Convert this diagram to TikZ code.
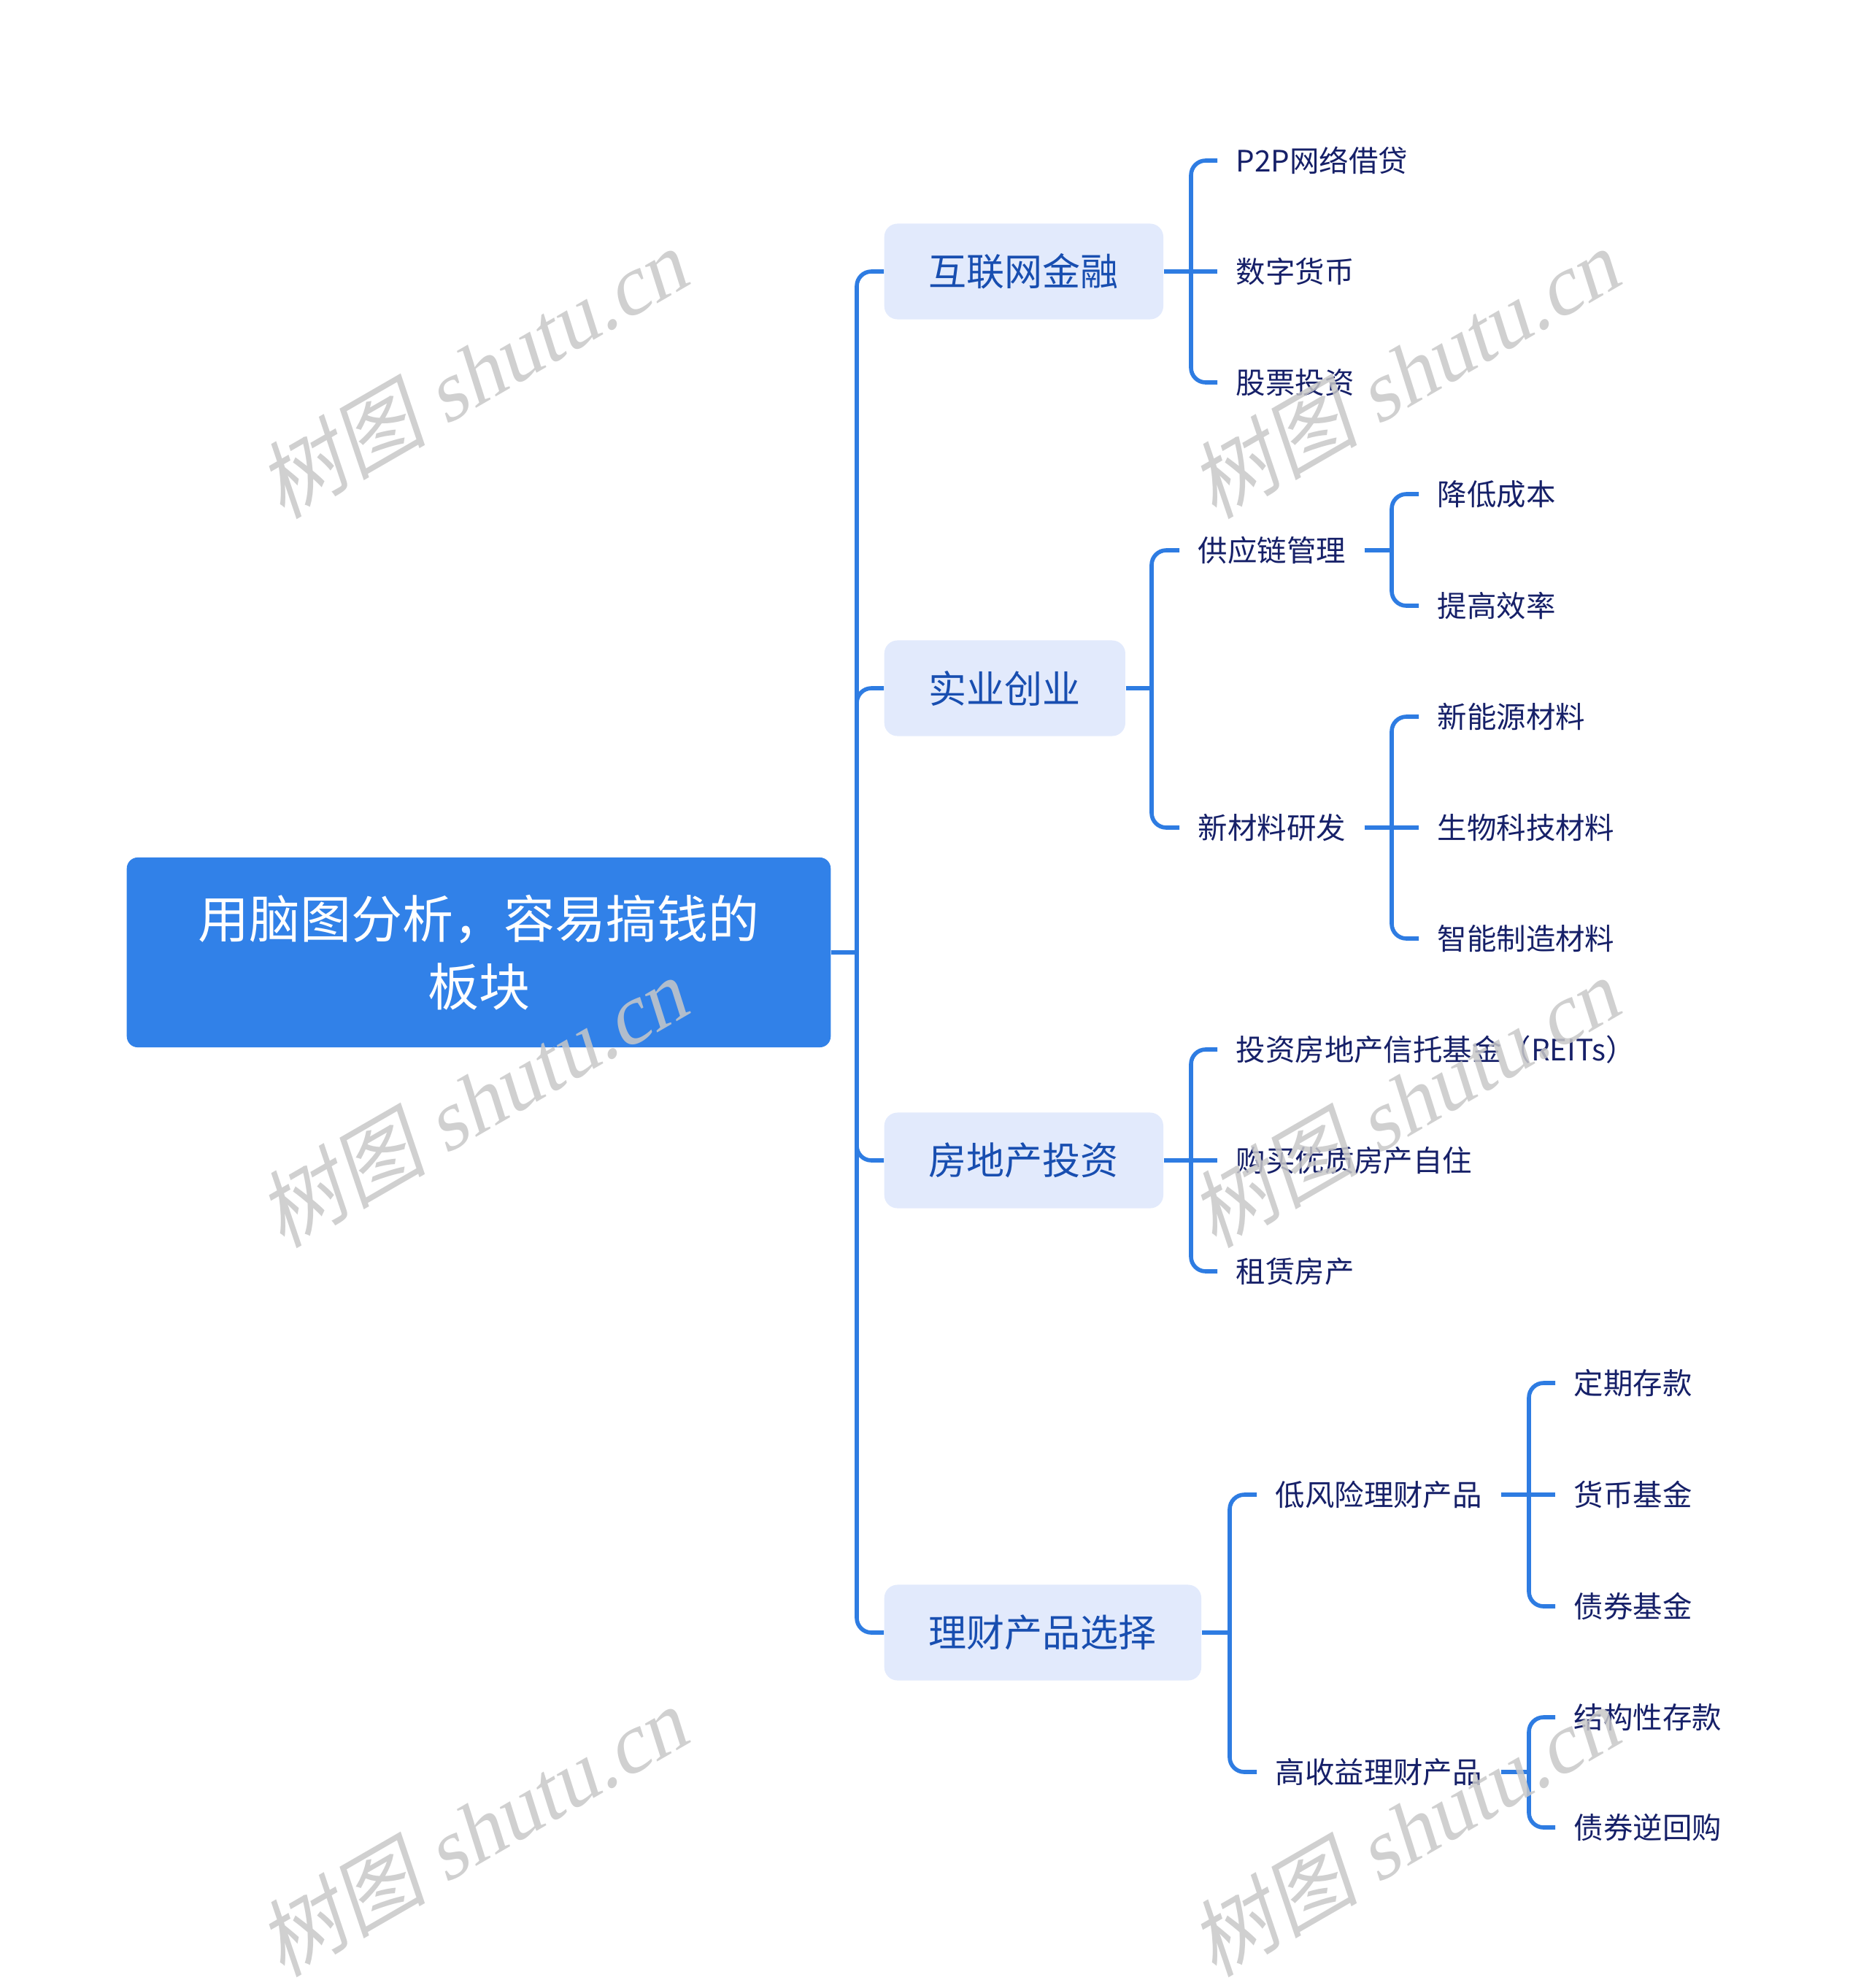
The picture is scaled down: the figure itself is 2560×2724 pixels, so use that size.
\documentclass[tikz,border=0pt]{standalone}
\usepackage{fontspec}
\setmainfont{Noto Sans CJK SC}
\newfontfamily\wmcjk[FakeSlant=0.2]{Noto Sans CJK SC}
\newfontfamily\wmlatin[FakeSlant=0.22]{Liberation Serif}
\usetikzlibrary{calc}

\definecolor{linkblue}{RGB}{46,124,226}
\definecolor{rootblue}{RGB}{49,129,232}
\definecolor{topicfill}{RGB}{226,234,252}
\definecolor{topictext}{RGB}{24,78,176}
\definecolor{leaftext}{RGB}{22,32,104}
\definecolor{wmgray}{RGB}{200,200,200}

\begin{document}
\begin{tikzpicture}[
    x=0.01cm, y=-0.01cm,
    root/.style={rectangle, fill=rootblue, rounded corners=0.15cm, text=white,
                 minimum width=9.64cm, minimum height=2.6cm, align=center,
                 font=\fontsize{19.9pt}{26.5pt}\selectfont},
    topic/.style={rectangle, fill=topicfill, rounded corners=0.18cm, text=topictext,
                  minimum height=1.31cm, inner xsep=0.61cm, anchor=west,
                  font=\fontsize{14.8pt}{18pt}\selectfont},
    leaf/.style={inner xsep=0.25cm, inner ysep=2pt, anchor=west, text=leaftext,
                 font=\fontsize{11.5pt}{14pt}\selectfont},
    link/.style={draw=linkblue, line width=1.6pt, rounded corners=0.2cm},
    wmark/.style={text=wmgray, opacity=0.85, rotate=30,
                  font=\fontsize{33pt}{36pt}\selectfont},
]
    \useasboundingbox (0,0) rectangle (2560,2724);

    % --- root and main topics ---
    \node[root]  (root) at (656,1305) {用脑图分析，容易搞钱的\\板块};
    \node[topic] (fin)  at (1211,372)  {互联网金融};
    \node[topic] (ind)  at (1211,943)  {实业创业};
    \node[topic] (est)  at (1211,1590) {房地产投资};
    \node[topic] (fund) at (1211,2237) {理财产品选择};

    \coordinate (spine) at (1174,1305);
    \draw[link] (root.east) -- (spine);
    \foreach \t in {fin,ind,est,fund}
        \draw[link] (spine) |- (\t.west);

    % --- 互联网金融 ---
    \node[leaf] (p2p)   at (1668,220) {P2P网络借贷};
    \node[leaf] (coin)  at (1668,372) {数字货币};
    \node[leaf] (stock) at (1668,524) {股票投资};
    \coordinate (jfin) at (1632,372);
    \draw[link] (fin.east) -- (coin.west);
    \foreach \c in {p2p,stock}
        \draw[link] (jfin) |- (\c.west);

    % --- 实业创业 ---
    \node[leaf] (chain)  at (1616,754)  {供应链管理};
    \node[leaf] (newmat) at (1616,1134) {新材料研发};
    \coordinate (jind) at (1578,943);
    \draw[link] (ind.east) -- (jind);
    \foreach \c in {chain,newmat}
        \draw[link] (jind) |- (\c.west);

    \node[leaf] (cost) at (1944,677) {降低成本};
    \node[leaf] (eff)  at (1944,830) {提高效率};
    \coordinate (jchain) at (1907,754);
    \draw[link] (chain.east) -- (jchain);
    \foreach \c in {cost,eff}
        \draw[link] (jchain) |- (\c.west);

    \node[leaf] (energy) at (1944,982)  {新能源材料};
    \node[leaf] (bio)    at (1944,1134) {生物科技材料};
    \node[leaf] (smart)  at (1944,1286) {智能制造材料};
    \coordinate (jnew) at (1907,1134);
    \draw[link] (newmat.east) -- (bio.west);
    \foreach \c in {energy,smart}
        \draw[link] (jnew) |- (\c.west);

    % --- 房地产投资 ---
    \node[leaf] (reits) at (1668,1438) {投资房地产信托基金（REITs）};
    \node[leaf] (home)  at (1668,1590) {购买优质房产自住};
    \node[leaf] (rent)  at (1668,1742) {租赁房产};
    \coordinate (jest) at (1632,1590);
    \draw[link] (est.east) -- (home.west);
    \foreach \c in {reits,rent}
        \draw[link] (jest) |- (\c.west);

    % --- 理财产品选择 ---
    \node[leaf] (lowrisk) at (1722,2048) {低风险理财产品};
    \node[leaf] (highret) at (1722,2428) {高收益理财产品};
    \coordinate (jfund) at (1685,2237);
    \draw[link] (fund.east) -- (jfund);
    \foreach \c in {lowrisk,highret}
        \draw[link] (jfund) |- (\c.west);

    \node[leaf] (fixed) at (2131,1895) {定期存款};
    \node[leaf] (money) at (2131,2048) {货币基金};
    \node[leaf] (bond)  at (2131,2201) {债券基金};
    \coordinate (jlow) at (2095,2048);
    \draw[link] (lowrisk.east) -- (money.west);
    \foreach \c in {fixed,bond}
        \draw[link] (jlow) |- (\c.west);

    \node[leaf] (struct) at (2131,2353) {结构性存款};
    \node[leaf] (repo)   at (2131,2504) {债券逆回购};
    \coordinate (jhigh) at (2095,2428);
    \draw[link] (highret.east) -- (jhigh);
    \foreach \c in {struct,repo}
        \draw[link] (jhigh) |- (\c.west);

    % watermarks
    \foreach \wx in {646,1923}
        \foreach \wy in {512,1511,2510}
            \node[wmark] (mark-\wx-\wy) at (\wx,\wy)
                {{\wmcjk 树图} {\wmlatin shutu.cn}};
\end{tikzpicture}
\end{document}
